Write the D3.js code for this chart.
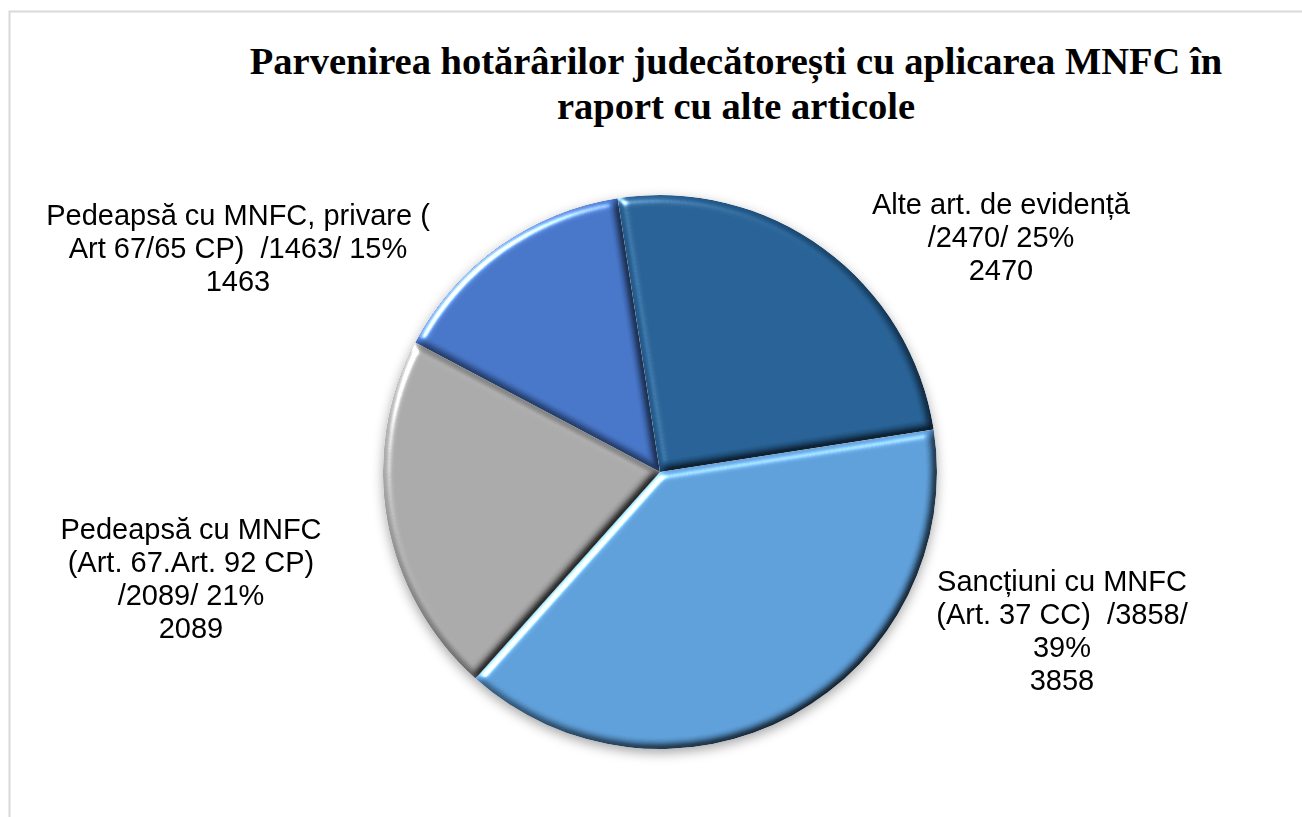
<!DOCTYPE html>
<html>
<head>
<meta charset="utf-8">
<script src="https://cdn.jsdelivr.net/npm/d3@7"></script>
<style>
  html, body { margin: 0; padding: 0; background: #fff; }
  svg { display: block; }
</style>
</head>
<body>
<svg id="chart" width="1302" height="817"></svg>
<script>
// ---- data ----
const titleLines = ["Parvenirea hotărârilor judecătorești cu aplicarea MNFC în", "raport cu alte articole"];
const categories = ["Alte art. de evidență", "Sancțiuni cu MNFC (Art. 37 CC)", "Pedeapsă cu MNFC (Art. 67.Art. 92 CP)", "Pedeapsă cu MNFC, privare ( Art 67/65 CP)"];
const values = [2470, 3858, 2089, 1463];
const colors = ["#255E91", "#5B9BD5", "#A5A5A5", "#4472C4"];
// how each category name is broken into lines in the data label
const nameLines = [
  ["Alte art. de evidență"],
  ["Sancțiuni cu MNFC", "(Art. 37 CC)"],
  ["Pedeapsă cu MNFC", "(Art. 67.Art. 92 CP)"],
  ["Pedeapsă cu MNFC, privare (", "Art 67/65 CP)"]
];

// ---- layout ----
const W = 1302, H = 817;
const cx = 660, cy = 472, R = 277;
const startDeg = -8.8;
const fontLabel = "'Liberation Sans', Arial, sans-serif";
const labelSize = 29;
const lineH = 33;

const svg = d3.select("#chart");
const defs = svg.append("defs");

// bevel filter
const bevel = defs.append("filter").attr("id", "bevel")
  .attr("x", "-20%").attr("y", "-20%").attr("width", "140%").attr("height", "140%")
  .attr("color-interpolation-filters", "sRGB");
bevel.append("feGaussianBlur").attr("in", "SourceAlpha").attr("stdDeviation", 4).attr("result", "b");
const dl = bevel.append("feDiffuseLighting").attr("in", "b").attr("surfaceScale", 6)
  .attr("diffuseConstant", 1.155).attr("lighting-color", "#fff").attr("result", "d");
dl.append("feDistantLight").attr("azimuth", 225).attr("elevation", 60);
bevel.append("feComposite").attr("in", "SourceGraphic").attr("in2", "d").attr("operator", "arithmetic")
  .attr("k1", 1).attr("k2", 0).attr("k3", 0).attr("k4", 0).attr("result", "shaded");
const sl = bevel.append("feSpecularLighting").attr("in", "b").attr("surfaceScale", 5)
  .attr("specularConstant", 0.9).attr("specularExponent", 30).attr("lighting-color", "#fff").attr("result", "s");
sl.append("feDistantLight").attr("azimuth", 225).attr("elevation", 35);
bevel.append("feComposite").attr("in", "s").attr("in2", "SourceAlpha").attr("operator", "in").attr("result", "s2");
bevel.append("feComposite").attr("in", "shaded").attr("in2", "s2").attr("operator", "arithmetic")
  .attr("k1", 0).attr("k2", 1).attr("k3", 1).attr("k4", 0).attr("result", "lit");
bevel.append("feComposite").attr("in", "lit").attr("in2", "SourceAlpha").attr("operator", "in");

// shadow filter
const shadow = defs.append("filter").attr("id", "shadow")
  .attr("x", "-20%").attr("y", "-20%").attr("width", "140%").attr("height", "140%");
shadow.append("feGaussianBlur").attr("in", "SourceAlpha").attr("stdDeviation", 6).attr("result", "sb");
shadow.append("feOffset").attr("in", "sb").attr("dx", 0).attr("dy", 4).attr("result", "so");
shadow.append("feFlood").attr("flood-color", "#000").attr("flood-opacity", 0.35).attr("result", "fc");
shadow.append("feComposite").attr("in", "fc").attr("in2", "so").attr("operator", "in").attr("result", "sh");
const merge = shadow.append("feMerge");
merge.append("feMergeNode").attr("in", "sh");
merge.append("feMergeNode").attr("in", "SourceGraphic");

// chart area border
svg.append("rect").attr("x", 9.5).attr("y", 11.5).attr("width", W + 20).attr("height", H + 20)
  .attr("fill", "#fff").attr("stroke", "#d9d9d9").attr("stroke-width", 2);

// title
svg.append("g").selectAll("text").data(titleLines).join("text")
  .attr("x", 736).attr("y", (d, i) => 74 + i * 45)
  .attr("text-anchor", "middle")
  .attr("font-family", "'Liberation Serif', 'Times New Roman', serif")
  .attr("font-weight", "bold").attr("font-size", 38.5).attr("fill", "#000")
  .text(d => d);

// pie
const total = d3.sum(values);
const pie = d3.pie().sort(null).value(d => d)
  .startAngle(startDeg * Math.PI / 180).endAngle((startDeg + 360) * Math.PI / 180);
const arc = d3.arc().innerRadius(0).outerRadius(R);
const arcs = pie(values);

const pg = svg.append("g").attr("transform", `translate(${cx},${cy})`).attr("filter", "url(#shadow)");
pg.selectAll("path").data(arcs).join("path")
  .attr("d", arc)
  .attr("fill", (d, i) => colors[i])
  .attr("filter", "url(#bevel)");

// labels
const pct = v => Math.round(v / total * 100) + "%";
const labelText = [
  [nameLines[0][0], `/${values[0]}/ ${pct(values[0])}`, `${values[0]}`],
  [nameLines[1][0], `${nameLines[1][1]}  /${values[1]}/`, pct(values[1]), `${values[1]}`],
  [nameLines[2][0], nameLines[2][1], `/${values[2]}/ ${pct(values[2])}`, `${values[2]}`],
  [nameLines[3][0], `${nameLines[3][1]}  /${values[3]}/ ${pct(values[3])}`, `${values[3]}`]
];
// center x, center y of first line
const labelPos = [[1001, 204], [1062, 581], [191, 529], [238, 215]];

labelText.forEach((lines, i) => {
  const t = svg.append("text")
    .attr("text-anchor", "middle")
    .attr("font-family", fontLabel).attr("font-size", labelSize).attr("fill", "#000")
    .style("white-space", "pre");
  lines.forEach((ln, j) => {
    t.append("tspan").attr("x", labelPos[i][0]).attr("y", labelPos[i][1] + j * lineH + 10).text(ln);
  });
});
</script>
</body>
</html>
